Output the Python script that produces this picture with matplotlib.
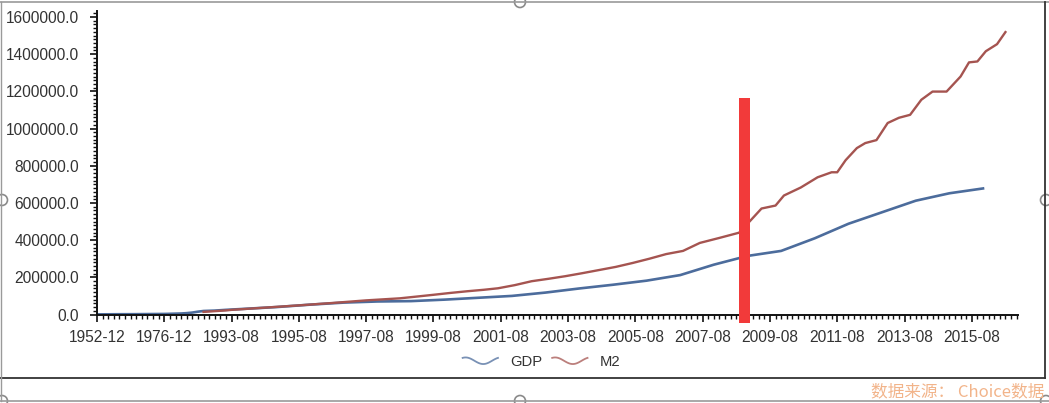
import numpy as np
import pandas as pd
import matplotlib
matplotlib.use('Agg')
import matplotlib.pyplot as plt
from matplotlib.lines import Line2D
from matplotlib.patches import Ellipse
from matplotlib.legend_handler import HandlerBase
from matplotlib.ticker import MultipleLocator, FixedLocator, FuncFormatter

# category axis: annual points, then quarterly, then monthly (as in the source chart)
annual_dates = [f"{y}-12" for y in range(1952, 1991)]
quarter_dates = ["1991-03", "1991-06", "1991-09", "1991-12", "1992-03",
                 "1992-06", "1992-09", "1992-12", "1993-03"]
monthly_dates = [p.strftime("%Y-%m") for p in pd.period_range("1993-08", "2016-12", freq="M")]
categories = annual_dates + quarter_dates + monthly_dates

tick_labels = ["1952-12", "1976-12", "1993-08", "1995-08", "1997-08", "1999-08",
               "2001-08", "2003-08", "2005-08", "2007-08", "2009-08", "2011-08",
               "2013-08", "2015-08"]

# GDP (annual, 亿元)
gdp_dates = ["1952-12", "1960-12", "1965-12", "1970-12", "1976-12", "1978-12",
             "1980-12", "1982-12", "1984-12", "1986-12", "1988-12", "1990-12",
             "1991-12", "1992-12", "1993-12", "1994-12", "1995-12", "1996-12",
             "1997-12", "1998-12", "1999-12", "2000-12", "2001-12", "2002-12",
             "2003-12", "2004-12", "2005-12", "2006-12", "2007-12", "2008-12",
             "2009-12", "2010-12", "2011-12", "2012-12", "2013-12", "2014-12",
             "2015-12"]
gdp_values = [700, 1500, 1700, 2300, 3000, 3700,
              4600, 5400, 7300, 10400, 15200, 18900,
              21000, 25000, 30000, 40000, 53000, 64000,
              70000, 72000, 80000, 90000, 100000, 118000,
              140000, 160000, 182000, 212000, 268000, 315000,
              342000, 410000, 488000, 550000, 612000, 652000,
              678000]

# M2 (亿元)
m2_dates = ["1990-12", "1991-12", "1992-12", "1993-08", "1994-08", "1995-08",
            "1996-08", "1997-08", "1998-08", "1999-03", "1999-08", "2000-02",
            "2000-08", "2001-02", "2001-07", "2002-01", "2002-07", "2003-01",
            "2003-07", "2004-01", "2004-07", "2005-01", "2005-07", "2006-01",
            "2006-07", "2007-01", "2007-07", "2008-02", "2008-09", "2008-12",
            "2009-05", "2009-10", "2010-01", "2010-07", "2011-01", "2011-06",
            "2011-08", "2011-11", "2012-03", "2012-06", "2012-10", "2013-02",
            "2013-06", "2013-10", "2014-02", "2014-06", "2014-11", "2015-04",
            "2015-07", "2015-10", "2016-01", "2016-05", "2016-08"]
m2_values = [14000, 18000, 22000, 25000, 37000, 49000,
             62000, 76000, 87000, 98000, 106000, 116000,
             125000, 133000, 141000, 158000, 179000, 192000,
             206000, 222000, 239000, 256000, 277000, 300000,
             325000, 342000, 385000, 412000, 440000, 488000,
             570000, 586000, 640000, 683000, 738000, 765000,
             765000, 830000, 895000, 922000, 938000, 1030000,
             1058000, 1074000, 1155000, 1199000, 1199000, 1280000,
             1356000, 1361000, 1416000, 1454000, 1519000]

# red highlight bar drawn on the screenshot
marker_date = "2008-11"
marker_top = 1165000
marker_bottom = -48000

GDP_COLOR = '#4C6C9C'
M2_COLOR = '#A55450'

pos = {d: i for i, d in enumerate(categories)}


class WaveHandler(HandlerBase):
    # wavy legend symbol like the Choice terminal uses
    def create_artists(self, legend, orig_handle, xdescent, ydescent,
                       width, height, fontsize, trans):
        t = np.linspace(0, 1, 40)
        x = -xdescent + t * width
        y = -ydescent + height / 2 + 0.32 * height * np.sin(2 * np.pi * t + np.pi / 3)
        line = Line2D(x, y, color=orig_handle.get_color(), lw=1.3, alpha=0.75)
        line.set_transform(trans)
        return [line]


plt.rcParams['font.family'] = ['Liberation Sans', 'DejaVu Sans']

fig = plt.figure(figsize=(10.49, 4.03), dpi=100)
ax = fig.add_axes([0.0925, 0.2196, 0.878, 0.752])

gdp_line, = ax.plot([pos[d] for d in gdp_dates], gdp_values, color=GDP_COLOR, lw=1.9, label='GDP')
m2_line, = ax.plot([pos[d] for d in m2_dates], m2_values, color=M2_COLOR, lw=1.7, label='M2')

ax.bar(pos[marker_date], marker_top - marker_bottom, bottom=marker_bottom, width=4,
       color='#F23A3A', clip_on=False, zorder=5)

ax.set_xlim(0, 328.5)
ax.set_ylim(0, 1630000)

ax.xaxis.set_major_locator(FixedLocator([pos[d] for d in tick_labels]))
ax.set_xticklabels(tick_labels)
ax.xaxis.set_minor_locator(MultipleLocator(2))
ax.yaxis.set_major_locator(MultipleLocator(200000))
ax.yaxis.set_minor_locator(MultipleLocator(20000))
ax.yaxis.set_major_formatter(FuncFormatter(lambda v, p: f"{v:.1f}"))

for s in ['top', 'right']:
    ax.spines[s].set_visible(False)
for s in ['left', 'bottom']:
    ax.spines[s].set_linewidth(1.4)
    ax.spines[s].set_color('#111111')

ax.tick_params(axis='both', which='major', length=5, width=1.2, color='#111111',
               labelsize=11.2, labelcolor='#333333')
ax.tick_params(axis='both', which='minor', length=3, width=1.0, color='#111111')
ax.tick_params(axis='y', which='major', pad=8)
ax.tick_params(axis='x', which='major', pad=6)

fig.legend(handles=[gdp_line, m2_line], labels=['GDP', 'M2'],
           handler_map={Line2D: WaveHandler()},
           loc='center', bbox_to_anchor=(0.516, 0.102), ncol=2, frameon=False,
           fontsize=10.6, handlelength=2.4, handletextpad=0.8, columnspacing=0.7,
           labelcolor='#333333')

# screenshot frame
W, H = 1049, 403
fig.add_artist(Line2D([0, 1], [1 - 2 / H] * 2, transform=fig.transFigure, color='#9A9A9A', lw=1.2))
fig.add_artist(Line2D([0, 1045 / W], [1 - 378 / H] * 2, transform=fig.transFigure, color='#333333', lw=1.3))
fig.add_artist(Line2D([1045 / W] * 2, [1 - 2 / H, 1 - 378 / H], transform=fig.transFigure, color='#333333', lw=1.3))
fig.add_artist(Line2D([0, 1], [1 - 401 / H] * 2, transform=fig.transFigure, color='#9A9A9A', lw=1.2))
fig.add_artist(Line2D([1 / W] * 2, [1 - 2 / H, 1 - 401 / H], transform=fig.transFigure, color='#9A9A9A', lw=1.0))
for hx, hy in [(520, 2), (520, 401), (2, 200), (1046, 200), (2, 401), (1046, 401)]:
    fig.add_artist(Ellipse((hx / W, 1 - hy / H), 11 / W, 11 / H, transform=fig.transFigure,
                           facecolor='white', edgecolor='#8A8A8A', lw=1.2))

fig.text(1044 / W, 1 - 392 / H, '数据来源： Choice数据', ha='right', va='center',
         color='#F2B48A', fontsize=12, family=['Noto Sans CJK SC', 'DejaVu Sans'])

fig.savefig('out.png', dpi=100, facecolor='white')
